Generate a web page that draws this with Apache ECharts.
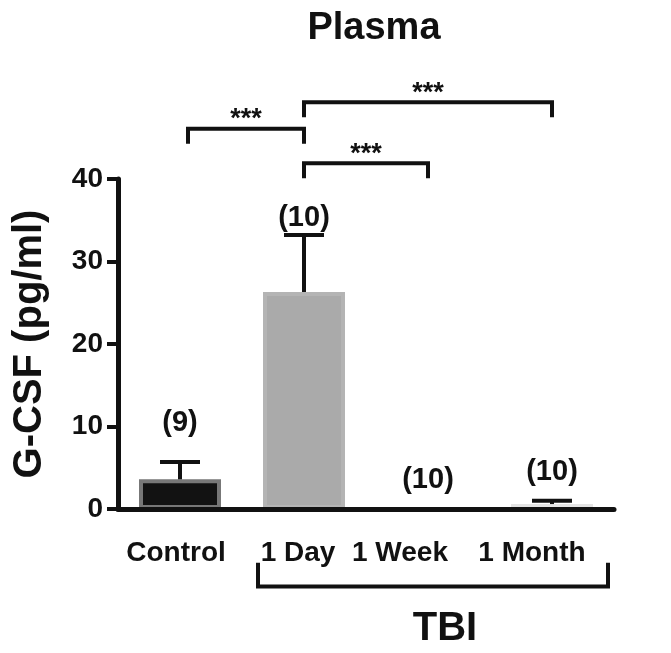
<!DOCTYPE html>
<html><head><meta charset="utf-8">
<script src="https://cdn.jsdelivr.net/npm/echarts@6/dist/echarts.min.js"></script>
<style>html,body{margin:0;padding:0;background:#fff}#c{width:671px;height:653px}</style>
</head><body><div id="c"></div>
<script>
// ---- data ----
const categories = ['Control', '1 Day', '1 Week', '1 Month'];
const means = [3.6, 26.3, 0, 0.6];
const upperErr = [5.7, 33.2, 0, 1.0];
const sampleSizes = ['(9)', '(10)', '(10)', '(10)'];
const yMin = 0, yMax = 40, yInterval = 10;
// [fromIndex, toIndex, bracketLevel, mark]
const comparisons = [[0, 1, 46.1, '***'], [1, 3, 49.3, '***'], [1, 2, 41.9, '***']];
// [fromIndex, toIndex, topLevel, bottomLevel, label]
const groupBrackets = [[1, 3, -6.5, -9.4, 'TBI']];

// ---- styles ----
const FONT = '"Liberation Sans", Arial, sans-serif';
const INK = '#111111';
const fills = ['#121212', '#aaaaaa', '#dddddd', '#dedede'];
const borders = ['#777777', '#b4b4b4', '#e4e4e4', '#e4e4e4'];
const labelGap = [39, 17, 29, 29];
const labelShift = [-4, -6, -28, -20];

const chart = echarts.init(document.getElementById('c'), null, {renderer: 'canvas'});

const rich = {};
labelShift.forEach((s, i) => {
  rich['s' + i] = {fontSize: 28, fontWeight: 'bold', fontFamily: FONT, color: INK,
    padding: [0, Math.max(0, -2 * s), 0, Math.max(0, 2 * s)]};
});

const option = {
  backgroundColor: '#ffffff',
  animation: false,
  title: {
    text: 'Plasma', left: 369, top: 5, textAlign: 'center',
    textStyle: {fontSize: 38, fontWeight: 'bold', fontFamily: FONT, color: INK}
  },
  grid: {left: 118, right: 57, top: 179, bottom: 144, containLabel: false},
  xAxis: {
    type: 'category', data: categories, z: 10,
    axisLine: {lineStyle: {color: INK, width: 5}},
    axisTick: {alignWithLabel: true, length: 13, lineStyle: {color: INK, width: 4}},
    axisLabel: {
      margin: 30, interval: 0,
      formatter: (v, i) => '{s' + i + '|' + v + '}', rich: rich
    },
    splitLine: {show: false}
  },
  yAxis: {
    type: 'value', min: yMin, max: yMax, interval: yInterval, z: 10,
    name: 'G-CSF (pg/ml)', nameLocation: 'middle', nameGap: 68,
    nameTextStyle: {fontSize: 40, fontWeight: 'bold', fontFamily: FONT, color: INK},
    axisLine: {show: true, lineStyle: {color: INK, width: 5}},
    axisTick: {show: true, length: 11, lineStyle: {color: INK, width: 4}},
    axisLabel: {margin: 15, fontSize: 28, fontWeight: 'bold', fontFamily: FONT, color: INK},
    splitLine: {show: false}
  },
  series: [
    {
      type: 'bar', barWidth: 82, z: 2,
      data: means.map((v, i) => ({
        value: v,
        itemStyle: {color: fills[i], borderColor: borders[i], borderWidth: v > 0 ? 4 : 0}
      }))
    },
    {
      type: 'custom', z: 5, clip: false,
      encode: {x: 0, y: [1, 2]},
      data: categories.map((c, i) => [i, means[i], upperErr[i]]),
      renderItem: (params, api) => {
        const i = api.value(0), m = api.value(1), u = api.value(2);
        const base = api.coord([i, m]);
        const top = api.coord([i, u]);
        const children = [];
        if (u > m) {
          children.push({type: 'line', shape: {x1: top[0], y1: base[1], x2: top[0], y2: top[1]},
            style: {stroke: INK, lineWidth: 4}});
          children.push({type: 'line', shape: {x1: top[0] - 20, y1: top[1], x2: top[0] + 20, y2: top[1]},
            style: {stroke: INK, lineWidth: 4}});
        }
        children.push({type: 'text', x: top[0], y: top[1] - labelGap[i],
          style: {text: sampleSizes[i], fontSize: 29, fontWeight: 'bold', fontFamily: FONT,
            fill: INK, align: 'center', verticalAlign: 'middle'}});
        return {type: 'group', children: children};
      }
    },
    {
      type: 'custom', z: 5, clip: false,
      encode: {x: 0, y: 2},
      data: comparisons,
      renderItem: (params, api) => {
        const a = api.coord([api.value(0), api.value(2)]);
        const b = api.coord([api.value(1), api.value(2)]);
        const drop = 15;
        const ax = api.value(0) === 0 ? a[0] + 8 : a[0];
        const mark = comparisons[params.dataIndex][3];
        return {type: 'group', children: [
          {type: 'polyline', shape: {points: [[ax, a[1] + drop], [ax, a[1]], [b[0], b[1]], [b[0], b[1] + drop]]},
            style: {stroke: INK, lineWidth: 4, fill: null, lineJoin: 'miter'}},
          {type: 'text', x: (ax + b[0]) / 2, y: a[1] - 9,
            style: {text: mark, fontSize: 27, fontWeight: 'bold', fontFamily: FONT, fill: INK,
              align: 'center', verticalAlign: 'middle'}}
        ]};
      }
    },
    {
      type: 'custom', z: 5, clip: false,
      encode: {x: 0, y: 2},
      data: groupBrackets,
      renderItem: (params, api) => {
        const t1 = api.coord([api.value(0), api.value(2)]);
        const t2 = api.coord([api.value(1), api.value(2)]);
        const b = api.coord([api.value(0), api.value(3)]);
        const x1 = t1[0] - 46, x2 = t2[0] + 56;
        const label = groupBrackets[params.dataIndex][4];
        return {type: 'group', children: [
          {type: 'polyline', shape: {points: [[x1, t1[1]], [x1, b[1]], [x2, b[1]], [x2, t1[1]]]},
            style: {stroke: INK, lineWidth: 4, fill: null, lineJoin: 'miter'}},
          {type: 'text', x: (x1 + x2) / 2 + 12, y: b[1] + 42,
            style: {text: label, fontSize: 40, fontWeight: 'bold', fontFamily: FONT, fill: INK,
              align: 'center', verticalAlign: 'middle'}}
        ]};
      }
    }
  ]
};
chart.setOption(option);
</script>
</body></html>
